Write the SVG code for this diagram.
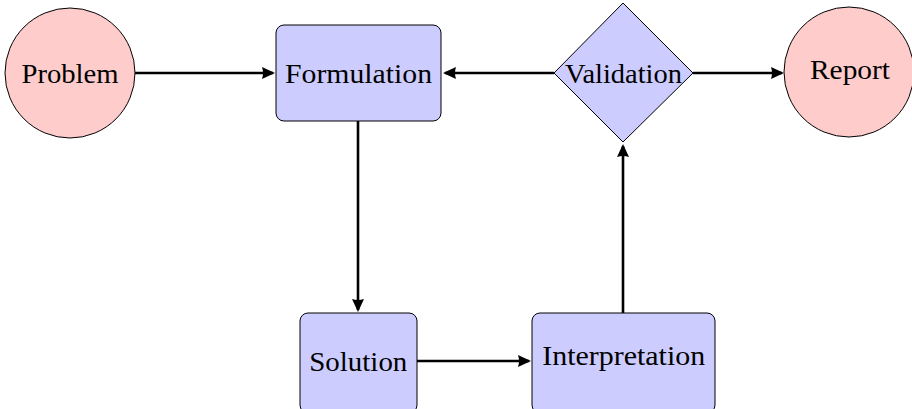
<svg xmlns="http://www.w3.org/2000/svg" width="912" height="409" viewBox="0 0 912 409">
<style>
.term{fill:#FFCCCC;stroke:#000;stroke-width:1}
.proc{fill:#CCCCFF;stroke:#000;stroke-width:1}
.lbl{font-family:"Liberation Serif","Times New Roman",serif;font-size:27px;fill:#000;text-anchor:middle}
.edge{stroke:#000;stroke-width:2.6;fill:none;marker-end:url(#ah)}
</style>
<defs>
<marker id="ah" markerUnits="userSpaceOnUse" markerWidth="15" markerHeight="14" viewBox="0 -7 15 14" refX="11" refY="0" orient="auto">
<path d="M0,-6 L13,0 L0,6 Q2,0 0,-6 z" fill="#000"/>
</marker>
</defs>
<g id="connectors">
<line class="edge" x1="135" y1="73" x2="273" y2="73"/>
<line class="edge" x1="358" y1="121" x2="358" y2="310"/>
<line class="edge" x1="417" y1="361" x2="529" y2="361"/>
<line class="edge" x1="623" y1="313" x2="623" y2="146"/>
<line class="edge" x1="554" y1="73" x2="445" y2="73"/>
<line class="edge" x1="693" y1="73" x2="782" y2="73"/>
</g>
<g id="problem">
<circle class="term" cx="70" cy="73" r="65"/>
<text class="lbl" x="70" y="82.5" textLength="97" lengthAdjust="spacingAndGlyphs">Problem</text>
</g>
<g id="formulation">
<rect class="proc" x="276" y="25" width="165" height="96" rx="8"/>
<text class="lbl" x="358.5" y="83" textLength="147" lengthAdjust="spacingAndGlyphs">Formulation</text>
</g>
<g id="validation">
<polygon class="proc" points="623,3 693,73 623,142 554,73"/>
<text class="lbl" x="623.5" y="83" textLength="117" lengthAdjust="spacingAndGlyphs">Validation</text>
</g>
<g id="report">
<circle class="term" cx="849" cy="72" r="65"/>
<text class="lbl" x="850" y="79" textLength="80" lengthAdjust="spacingAndGlyphs">Report</text>
</g>
<g id="solution">
<rect class="proc" x="300" y="313" width="117" height="100" rx="8"/>
<text class="lbl" x="358.3" y="370.5" textLength="98" lengthAdjust="spacingAndGlyphs">Solution</text>
</g>
<g id="interpretation">
<rect class="proc" x="532" y="313" width="183" height="100" rx="8"/>
<text class="lbl" x="623.7" y="365" textLength="163" lengthAdjust="spacingAndGlyphs">Interpretation</text>
</g>
</svg>
